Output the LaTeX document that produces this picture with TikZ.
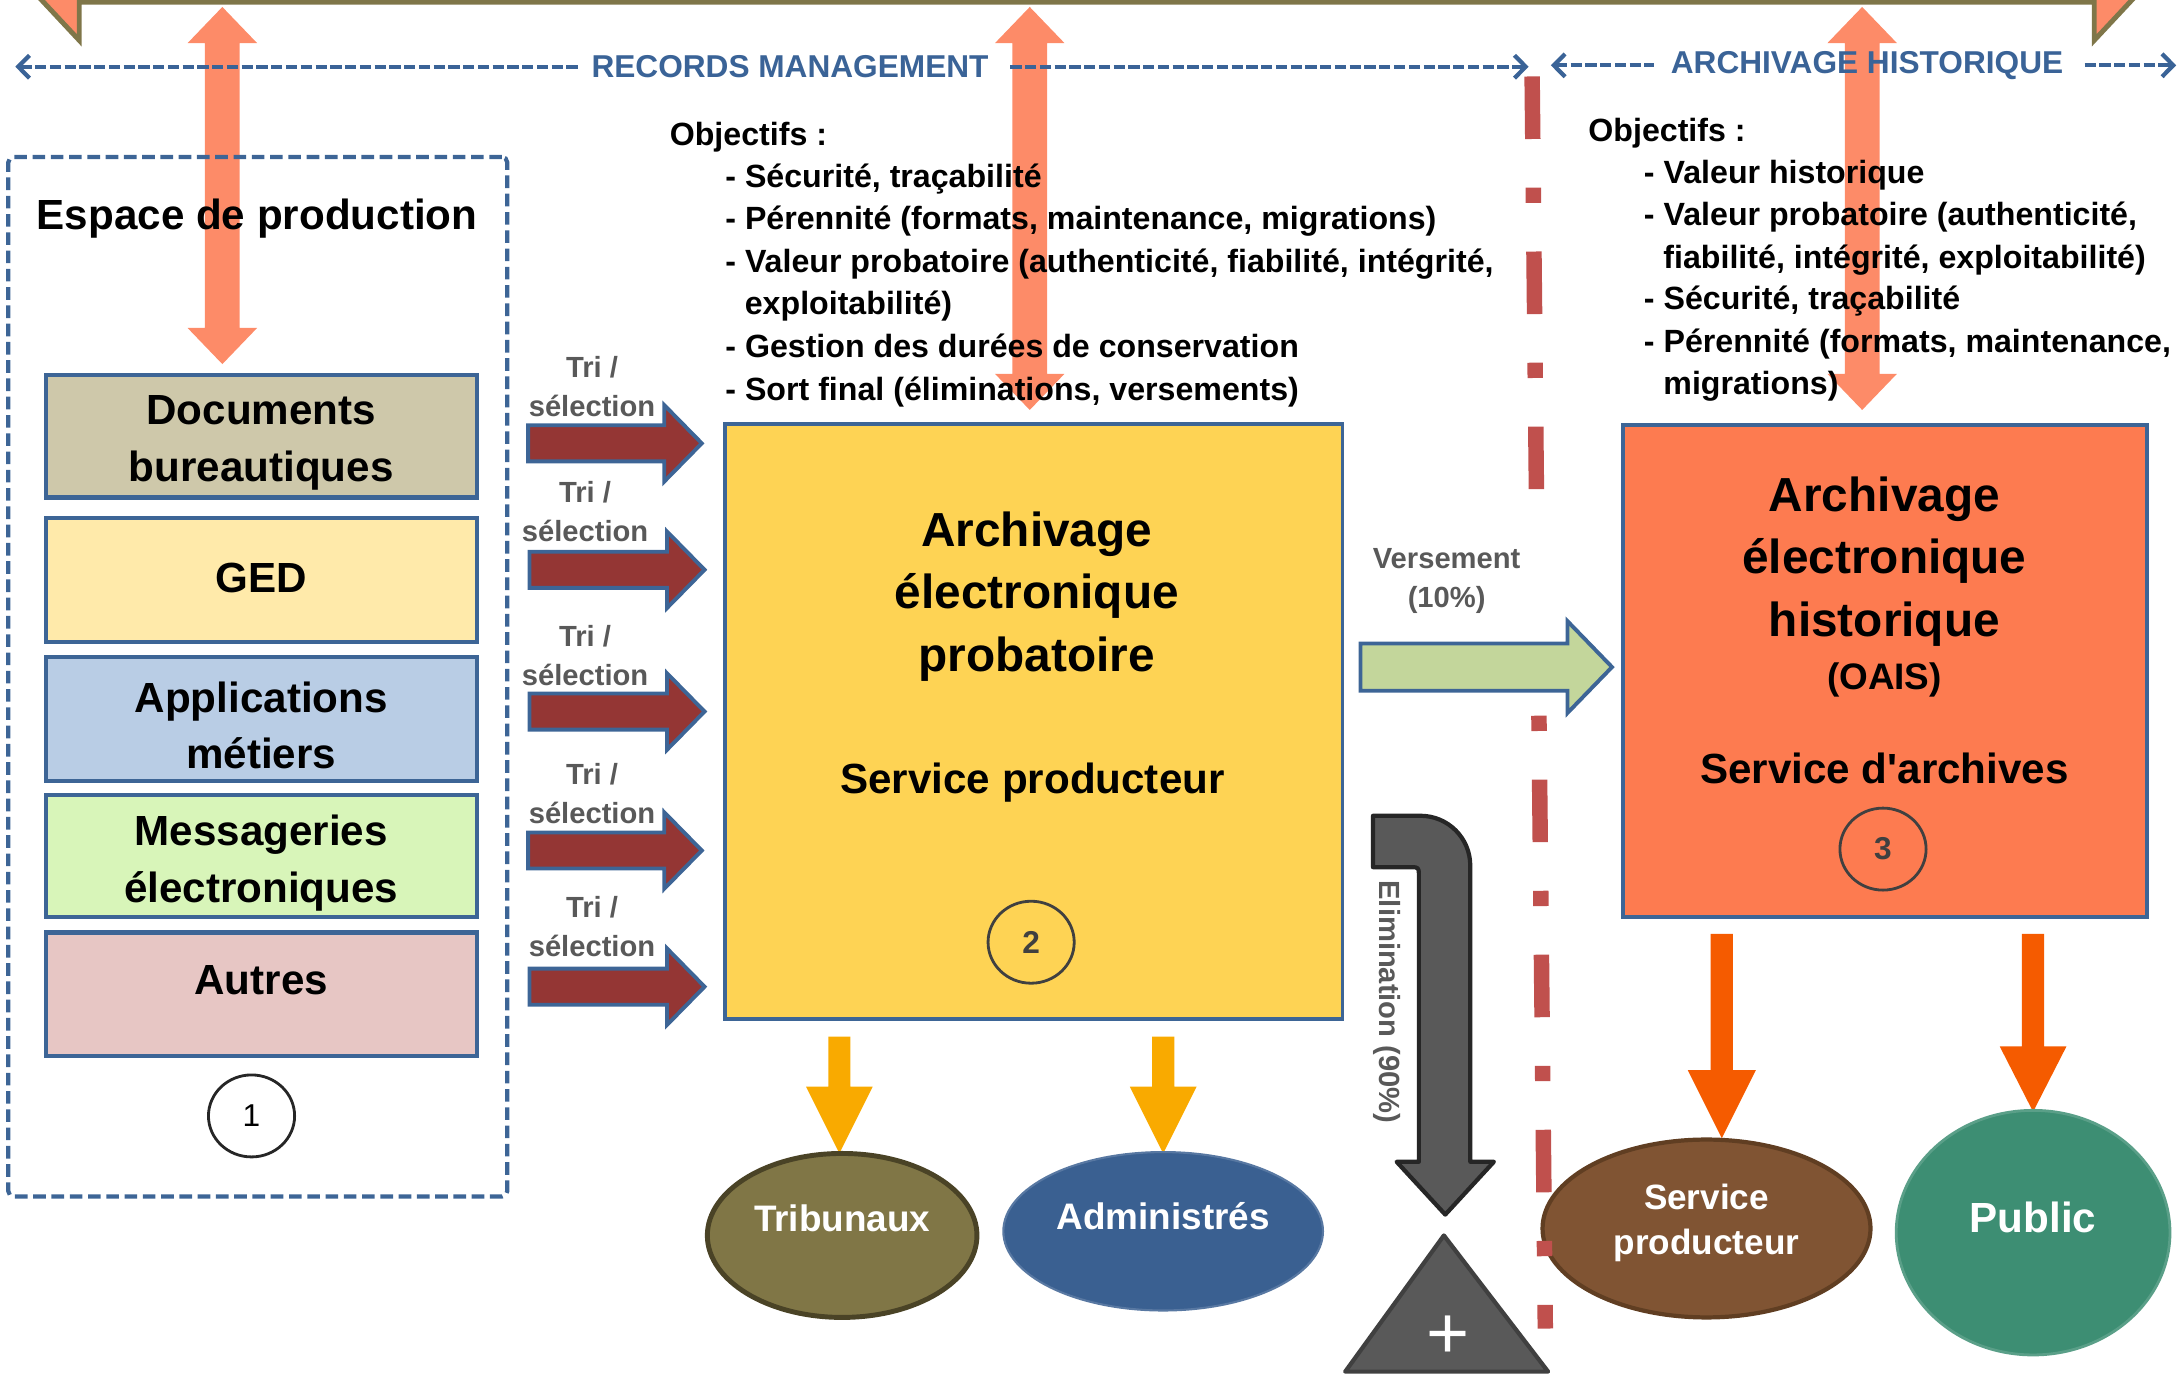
\documentclass[tikz,border=0pt]{standalone}
\usepackage{fontspec}
\setmainfont{Liberation Sans}
\usetikzlibrary{arrows.meta,shapes.geometric}
\definecolor{salmon}{HTML}{FD8B68}
\definecolor{olive}{HTML}{7F7649}
\definecolor{bord}{HTML}{3D6596}
\definecolor{rmblue}{HTML}{3A6397}
\definecolor{darkred}{HTML}{943634}
\definecolor{ybox}{HTML}{FED354}
\definecolor{obox}{HTML}{FD7B50}
\definecolor{vgreen}{HTML}{C3D69B}
\definecolor{cDoc}{HTML}{CEC8AA}
\definecolor{cGed}{HTML}{FFEAAA}
\definecolor{cApp}{HTML}{B9CDE5}
\definecolor{cMsg}{HTML}{D8F5B9}
\definecolor{cAut}{HTML}{E7C6C4}
\definecolor{ddred}{HTML}{C0504D}
\definecolor{lblgray}{HTML}{595959}
\definecolor{yarrow}{HTML}{F9AA00}
\definecolor{oarrow}{HTML}{F55B00}
\definecolor{trib}{HTML}{807646}
\definecolor{tribb}{HTML}{4A4326}
\definecolor{admin}{HTML}{3A6091}
\definecolor{spro}{HTML}{805433}
\definecolor{sprob}{HTML}{603E22}
\definecolor{publ}{HTML}{3D8E73}
\definecolor{elim}{HTML}{595959}
\definecolor{elimb}{HTML}{262626}
\definecolor{gray40}{HTML}{404040}
\def\dpx{0.013897cm}
% block arrow pointing right: style, tail x, tip x, y, shaft half, head half, head length
\newcommand{\blkR}[7]{\path[#1] (#2,#4-#5) -- (#3-#7,#4-#5) -- (#3-#7,#4-#6) -- (#3,#4) -- (#3-#7,#4+#6) -- (#3-#7,#4+#5) -- (#2,#4+#5) -- cycle;}
% block arrow pointing down: style, x, top y, tip y, shaft half, head half, head length
\newcommand{\blkD}[7]{\path[#1] (#2-#5,#3) -- (#2+#5,#3) -- (#2+#5,#4-#7) -- (#2+#6,#4-#7) -- (#2,#4) -- (#2-#6,#4-#7) -- (#2-#5,#4-#7) -- cycle;}
% vertical double block arrow: style, x, top tip, bottom tip, shaft half, head half, head length
\newcommand{\blkV}[7]{\path[#1] (#2,#3) -- (#2+#6,#3+#7) -- (#2+#5,#3+#7) -- (#2+#5,#4-#7) -- (#2+#6,#4-#7) -- (#2,#4) -- (#2-#6,#4-#7) -- (#2-#5,#4-#7) -- (#2-#5,#3+#7) -- (#2-#6,#3+#7) -- cycle;}
\begin{document}
\begin{tikzpicture}[x=0.013897cm, y=-0.013897cm,
  every node/.style={inner sep=0pt, outer sep=0pt},
  lbl/.style={font=\fontsize{8.3}{11.1}\selectfont\bfseries, text=lblgray, align=center},
  obj/.style={font=\fontsize{9.15}{12}\selectfont\bfseries, anchor=base west},
  rmtxt/.style={font=\fontsize{9}{11}\selectfont\bfseries, text=rmblue},
  rmline/.style={draw=rmblue, line width=1.2pt, dash pattern=on 3.2pt off 1pt},
  srcbox/.style={draw=bord, line width=1.2pt, minimum width=310*\dpx, minimum height=88*\dpx},
  srctxt/.style={font=\fontsize{12}{16.2}\selectfont\bfseries, align=center},
  bigtxt/.style={font=\fontsize{13.6}{17.8}\selectfont\bfseries, align=center},
  numc/.style={ellipse, line width=0.8pt, minimum width=62*\dpx, minimum height=59*\dpx},
  tri/.style={fill=darkred, draw=bord, line width=1.1pt},
  ell/.style={ellipse},
  etxt/.style={text=white, font=\fontsize{10.5}{13}\selectfont\bfseries, align=center},
  ddline/.style={draw=ddred, line width=4.4pt, line cap=butt}
]
\useasboundingbox (0,0) rectangle (1568,989);

% top band
\begin{scope}
\clip (0,0) rectangle (1568,989);
\path[fill=salmon, draw=olive, line width=1.4pt, line join=miter] (0,-32) -- (57,29) -- (57,1.5) -- (1507,1.5) -- (1507,29) -- (1564,-32) -- cycle;
\end{scope}

% salmon double arrows
\blkV{fill=salmon}{160}{5}{262}{12.5}{25}{26}
\blkV{fill=salmon}{741}{5}{295}{12.5}{25}{26}
\blkV{fill=salmon}{1340}{5}{295}{12.5}{25}{26}

% records management / archivage historique
\coordinate (rmA) at (11,48);
\coordinate (rmA2) at (417,48);
\node[rmtxt] (rmT) at (568.5,48) {RECORDS MANAGEMENT};
\coordinate (rmB2) at (727,48);
\coordinate (rmB) at (1100,48);
\draw[rmline, {Straight Barb[length=3.2pt,width=6.5pt]}-] (rmA) -- (rmA2);
\draw[rmline, -{Straight Barb[length=3.2pt,width=6.5pt]}] (rmB2) -- (rmB);
\coordinate (ahA) at (1116,47);
\coordinate (ahA2) at (1190,47);
\node[rmtxt] (ahT) at (1343.5,47) {ARCHIVAGE HISTORIQUE};
\coordinate (ahB2) at (1500,47);
\coordinate (ahB) at (1566,47);
\draw[rmline, {Straight Barb[length=3.2pt,width=6.5pt]}-] (ahA) -- (ahA2);
\draw[rmline, -{Straight Barb[length=3.2pt,width=6.5pt]}] (ahB2) -- (ahB);

% espace de production
\node[draw=bord, line width=1.2pt, dash pattern=on 3.6pt off 1.6pt, rounded corners=1.5pt, minimum width=359*\dpx, minimum height=748*\dpx] (espace) at (185.5,487) {};
\node[font=\fontsize{12}{14}\selectfont\bfseries] (espT) at (185,157) {Espace de production};

\node[srcbox, fill=cDoc] (docs) at (188,314) {};
\node[srctxt] (docsT) at (188,319) {Documents\\bureautiques};
\node[srcbox, fill=cGed, minimum height=89*\dpx] (ged) at (188,417.5) {};
\node[srctxt] (gedT) at (188,416) {GED};
\node[srcbox, fill=cApp, minimum height=89*\dpx] (app) at (188,517.5) {};
\node[srctxt] (appT) at (188,522) {Applications\\métiers};
\node[srcbox, fill=cMsg] (msg) at (188,616) {};
\node[srctxt] (msgT) at (188,621) {Messageries\\électroniques};
\node[srcbox, fill=cAut, minimum height=89*\dpx] (aut) at (188,715.5) {};
\node[srctxt] (autT) at (188,705) {Autres};
\node[numc, draw=elimb] (n1) at (181,803) {\fontsize{9}{9}\selectfont 1};

% objectifs (records management)
\node[obj] (oL0) at (482,105) {Objectifs :};
\node[obj] (oL1) at (522,135) {- Sécurité, traçabilité};
\node[obj] (oL2) at (522,165) {- Pérennité (formats, maintenance, migrations)};
\node[obj] (oL3) at (522,196) {- Valeur probatoire (authenticité, fiabilité, intégrité,};
\node[obj] (oL4) at (536,226) {exploitabilité)};
\node[obj] (oL5) at (522,257) {- Gestion des durées de conservation};
\node[obj] (oL6) at (522,288) {- Sort final (éliminations, versements)};

% objectifs (archivage historique)
\node[obj] (oR0) at (1143,102) {Objectifs :};
\node[obj] (oR1) at (1183,132) {- Valeur historique};
\node[obj] (oR2) at (1183,162) {- Valeur probatoire (authenticité,};
\node[obj] (oR3) at (1197,193) {fiabilité, intégrité, exploitabilité)};
\node[obj] (oR4) at (1183,223) {- Sécurité, traçabilité};
\node[obj] (oR5) at (1183,254) {- Pérennité (formats, maintenance,};
\node[obj] (oR6) at (1197,284) {migrations)};

% tri / selection
\node[lbl] (tri1) at (426,278) {Tri /\\sélection};
\blkR{tri}{380}{505}{319}{13}{27.5}{27}
\node[lbl] (tri2) at (421,368) {Tri /\\sélection};
\blkR{tri}{381}{507}{410}{13}{27.5}{27}
\node[lbl] (tri3) at (421,472) {Tri /\\sélection};
\blkR{tri}{381}{507}{512}{13}{27.5}{27}
\node[lbl] (tri4) at (426,571) {Tri /\\sélection};
\blkR{tri}{380}{505}{612}{13}{27.5}{27}
\node[lbl] (tri5) at (426,667) {Tri /\\sélection};
\blkR{tri}{381}{507}{710}{13}{27.5}{27}

% probatoire box
\node[draw=bord, fill=ybox, line width=1.1pt, minimum width=444*\dpx, minimum height=428*\dpx] (prob) at (744,519) {};
\node[bigtxt] (probT) at (746,429) {Archivage\\électronique\\probatoire};
\node[srctxt] (probS) at (743,563) {Service producteur};
\node[numc, draw=gray40, text=gray40] (n2) at (742,678) {\fontsize{9}{9}\selectfont\bfseries 2};

% historique box
\node[draw=bord, fill=obox, line width=1.2pt, minimum width=377*\dpx, minimum height=354*\dpx] (hist) at (1356.5,483) {};
\node[bigtxt] (histT) at (1356,404) {Archivage\\électronique\\historique};
\node[font=\fontsize{10.5}{12}\selectfont\bfseries] (oais) at (1356,489) {(OAIS)};
\node[srctxt] (histS) at (1356,553) {Service d\textquotesingle archives};
\node[numc, draw=gray40, text=gray40] (n3) at (1355,611) {\fontsize{9}{9}\selectfont\bfseries 3};

% versement
\node[lbl] (versT) at (1041,418) {Versement\\(10\%)};
\blkR{fill=vgreen, draw=bord, line width=1.1pt}{979}{1160}{480}{17}{33}{32}

% down arrows
\blkD{fill=yarrow}{604}{746}{830}{8}{24}{48}
\blkD{fill=yarrow}{837}{746}{830}{8}{24}{48}
\blkD{fill=oarrow}{1239}{672}{819}{8}{24.5}{49}
\blkD{fill=oarrow}{1463}{672}{800}{8}{24}{47}

% ellipses
\node[ell, fill=trib, draw=tribb, line width=1.4pt, minimum width=194*\dpx, minimum height=118*\dpx] (tribE) at (606,889) {};
\node[etxt] (tribT) at (606,877) {Tribunaux};
\node[ell, fill=admin, draw=admin!85!white, line width=0.6pt, minimum width=230*\dpx, minimum height=114*\dpx] (admE) at (837,886) {};
\node[etxt] (admT) at (837,875) {Administrés};
\node[ell, fill=spro, draw=sprob, line width=1.2pt, minimum width=236*\dpx, minimum height=128*\dpx] (sproE) at (1228,884) {};
\node[etxt, font=\fontsize{10}{13}\selectfont\bfseries] (sproT) at (1228,880) {Service\\producteur};
\node[ell, fill=publ, draw=publ!85!white, line width=0.8pt, minimum width=197*\dpx, minimum height=176*\dpx] (publE) at (1463,887) {};
\node[etxt, font=\fontsize{12}{14}\selectfont\bfseries] (publT) at (1463,876) {Public};

% elimination
\path[fill=elim, draw=elimb, line width=1.2pt, line join=round] (988,587) -- (1022,587) .. controls (1042,587) and (1058,603) .. (1058,623) -- (1058,836) -- (1075,836) -- (1040,874) -- (1005,836) -- (1021,836) -- (1021,628) .. controls (1021,625) and (1020,624) .. (1017,624) -- (988,624) -- cycle;
\node[lbl, rotate=-90] (elimT) at (998,721) {Elimination (90\%)};
\path[fill=elim, draw=gray40, line width=1.2pt, line join=round] (968,987) -- (1114,987) -- (1039,889) -- cycle;
\node[text=white, font=\fontsize{21}{21}\selectfont] (plus) at (1042,962) {+};

% separator dash-dot line
\coordinate (dd1) at (1102.5,55);
\coordinate (dd2) at (1105.6,353);
\coordinate (dd3) at (1107.4,515);
\coordinate (dd4) at (1112,956);
\draw[ddline, dash pattern=on 17.8pt off 13.84pt on 4.35pt off 13.84pt] (dd1) -- (dd2);
\draw[ddline, dash pattern=on 4.35pt off 13.84pt on 17.8pt off 13.84pt] (dd3) -- (dd4);
\end{tikzpicture}
\end{document}
